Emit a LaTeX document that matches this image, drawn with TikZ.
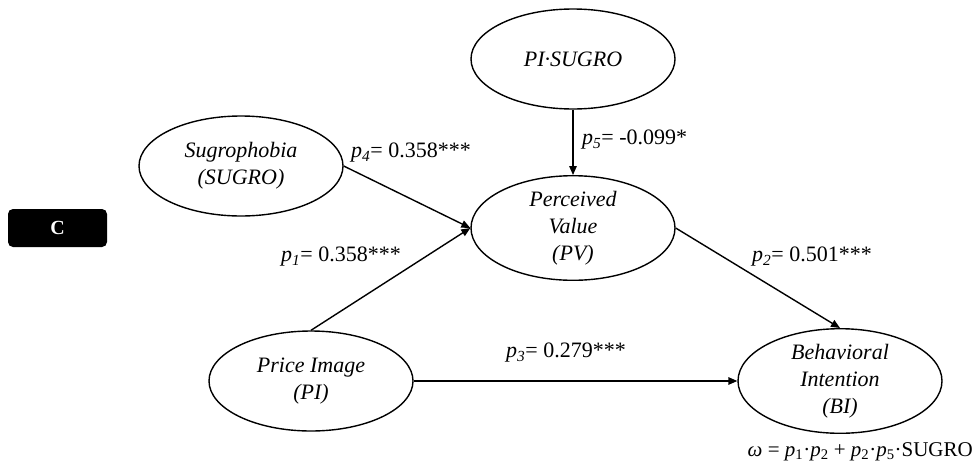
\documentclass[tikz,border=0pt]{standalone}
\usepackage{fontspec}
\setmainfont{Liberation Serif}
\usetikzlibrary{arrows.meta,shapes.geometric}

\newcommand{\pv}[1]{\textit{p}\textsubscript{\textit{#1}}}

\begin{document}
\begin{tikzpicture}[x=1pt,y=-1pt,
  construct/.style={draw, line width=1.4pt, ellipse, inner sep=0pt,
    minimum width=204pt, minimum height=100pt, align=center,
    font=\fontsize{22}{27}\selectfont\itshape},
  path/.style={line width=1.4pt, -{Triangle[length=9pt,width=7.5pt]}},
  coef/.style={anchor=west, inner sep=0pt, font=\fontsize{22}{26}\selectfont}]
\useasboundingbox (0,0) rectangle (976,474);

% panel tag
\node[fill=black, rounded corners=5pt, minimum width=99pt, minimum height=38pt,
      inner sep=0pt, text=white, font=\fontsize{20}{22}\selectfont\bfseries]
      (tag) at (57.5,228) {C};

% constructs
\node[construct] (int)   at (573,59)  {PI·SUGRO};
\node[construct] (sugro) at (241,166) {Sugrophobia\\(SUGRO)};
\node[construct] (pv)    at (573,228) {Perceived\\Value\\(PV)};
\node[construct] (pi)    at (311,381) {Price Image\\(PI)};
\node[construct] (bi)    at (840,381) {Behavioral\\Intention\\(BI)};

% paths
\draw[path] (int.south) -- (pv.north);
\draw[path] (sugro.east) -- (pv.west);
\draw[path] (pi.north) -- (pv.west);
\draw[path] (pv.east) -- (bi.north);
\draw[path] (pi.east) -- (bi.west);

% coefficients
\node[coef] (c4) at (351,153) {\pv{4}= 0.358***};
\node[coef] (c1) at (281,257) {\pv{1}= 0.358***};
\node[coef] (c5) at (582,140) {\pv{5}= -0.099*};
\node[coef] (c2) at (752,257) {\pv{2}= 0.501***};
\node[coef] (c3) at (506,353) {\pv{3}= 0.279***};

% indirect effect
\node[anchor=east, inner sep=0pt, font=\fontsize{21}{24}\selectfont] (omega) at (973,452)
  {\textit{ω} = \textit{p}\textsubscript{1}·\textit{p}\textsubscript{2} + \textit{p}\textsubscript{2}·\textit{p}\textsubscript{5}·SUGRO};
\end{tikzpicture}
\end{document}
